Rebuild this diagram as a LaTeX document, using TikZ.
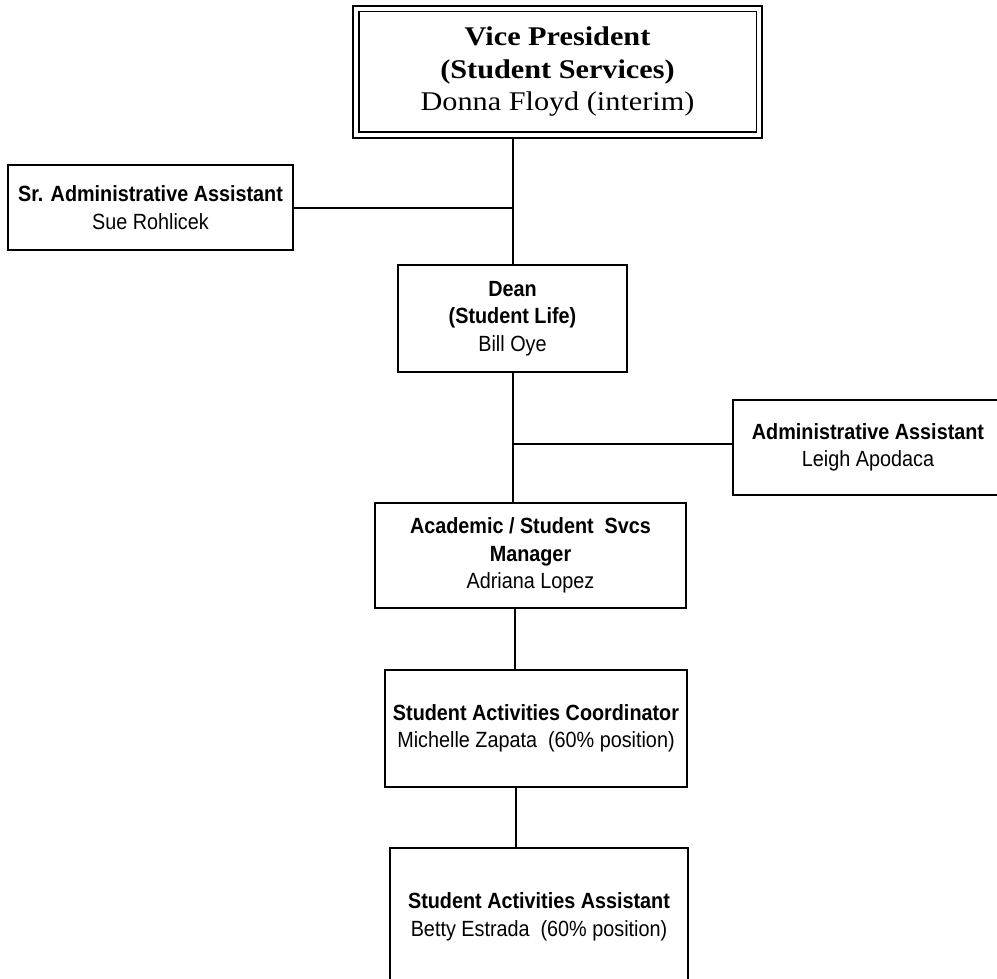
\documentclass[tikz,border=0pt]{standalone}
\usepackage{fontspec}
\setmainfont{Liberation Sans}[FakeStretch=0.9]
\newfontfamily\vpfont{Liberation Serif}[FakeStretch=1.12]
\begin{document}
\begin{tikzpicture}[x=1pt,y=-1pt,
  orgbox/.style={draw=black,line width=2.4pt,inner sep=0pt,align=center,
    font=\fontsize{22}{27.5}\selectfont},
  link/.style={draw=black,line width=2pt}]
\useasboundingbox (0,0) rectangle (997,979);
\begin{scope}
\clip (0,0) rectangle (997,979);
% top box
\node[orgbox,line width=2.8pt,minimum width=409pt,minimum height=132pt,
  font=\vpfont\fontsize{27}{32.5}\selectfont] (vp) at (557.5,72)
  {\textbf{Vice President}\\\textbf{(Student Services)}\\Donna Floyd (interim)};
\draw[line width=1.8pt] ([shift={(7,7)}]vp.north west) rectangle ([shift={(-7,-7)}]vp.south east);
\node[orgbox,minimum width=285pt,minimum height=85pt] (sr) at (150.5,207.5)
  {\textbf{Sr. Administrative Assistant}\\Sue Rohlicek};
\node[orgbox,minimum width=229pt,minimum height=107pt] (dean) at (512.5,318.5)
  {\textbf{Dean}\\\textbf{(Student Life)}\\Bill Oye};
\node[orgbox,minimum width=270pt,minimum height=95pt] (adm) at (868,447.5)
  {\textbf{Administrative Assistant}\\Leigh Apodaca};
\node[orgbox,minimum width=311pt,minimum height=105pt] (acad) at (530.5,555.5)
  {\textbf{Academic / Student\ \ Svcs}\\\textbf{Manager}\\Adriana Lopez};
\node[orgbox,minimum width=302pt,minimum height=117pt] (coord) at (536,728.5)
  {\textbf{Student Activities Coordinator}\\Michelle Zapata\ \ (60\% position)};
\node[orgbox,minimum width=298pt,minimum height=138pt] (asst) at (539,917)
  {\textbf{Student Activities Assistant}\\Betty Estrada\ \ (60\% position)};
% connectors
\coordinate (j1) at (512.5,208);
\coordinate (j2) at (513,444);
\coordinate (c3) at (515,0);
\coordinate (c4) at (516,0);
\draw[link] (vp.south -| dean.north) -- (dean.north);
\draw[link] (j1) -- (j1 -| sr.east);
\draw[link] (dean.south -| j2) -- (acad.north -| j2);
\draw[link] (j2) -- (j2 -| adm.west);
\draw[link] (acad.south -| c3) -- (coord.north -| c3);
\draw[link] (coord.south -| c4) -- (asst.north -| c4);
\end{scope}
\end{tikzpicture}
\end{document}
